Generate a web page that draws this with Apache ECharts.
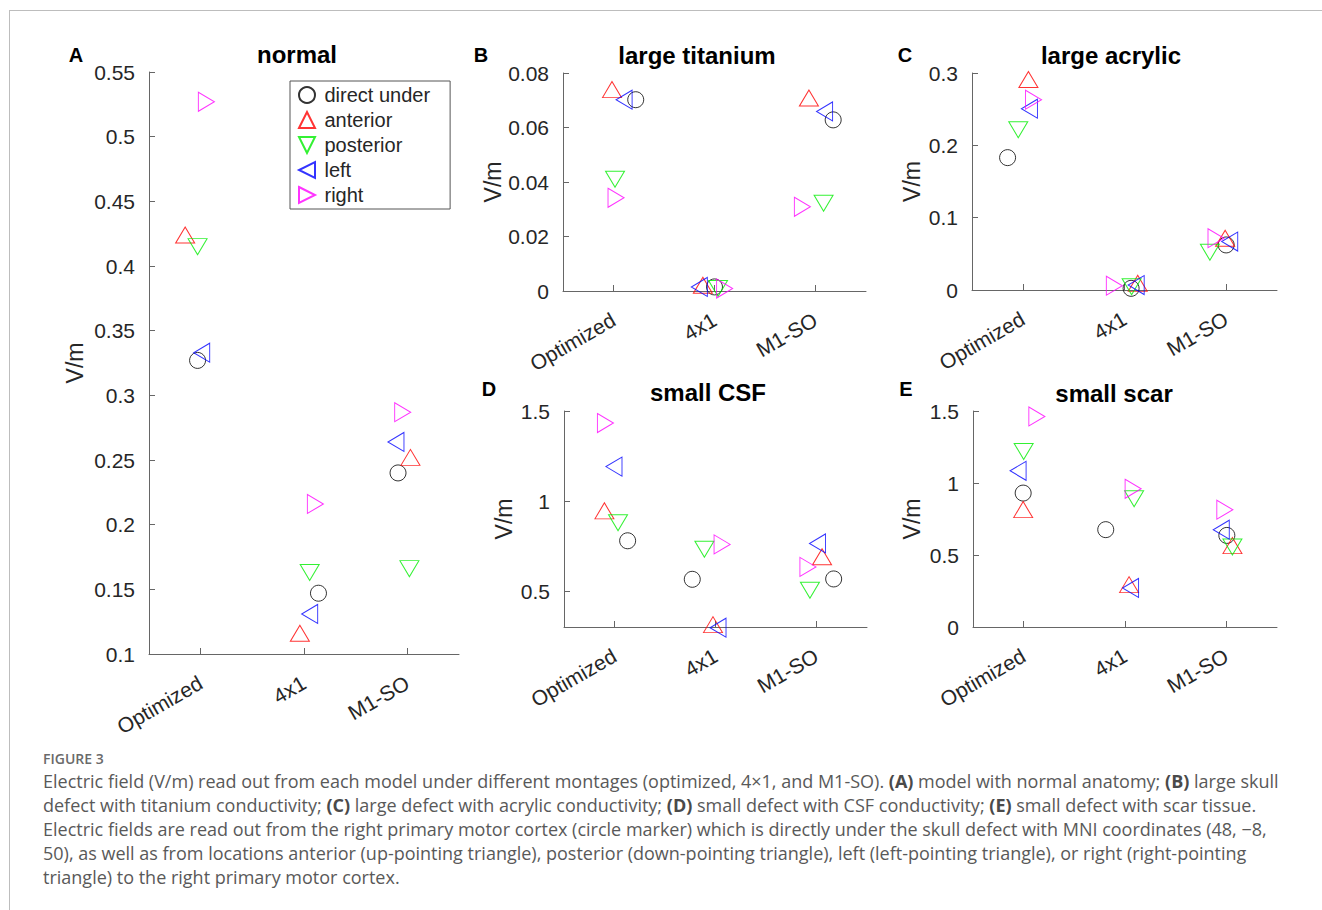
<!DOCTYPE html>
<html>
<head>
<meta charset="utf-8">
<script src="https://cdn.jsdelivr.net/npm/echarts@6/dist/echarts.min.js"></script>
<style>
  html, body { margin: 0; padding: 0; background: #fff; }
  #frame { position: absolute; left: 9px; top: 10px; width: 1313px; height: 900px;
           border-top: 1px solid #bdbdbd; border-left: 1px solid #bdbdbd; }
  #chart { position: absolute; left: 0; top: 0; width: 1322px; height: 740px; }
  #caption { position: absolute; left: 43px; top: 749px; white-space: nowrap;
             font-family: 'Open Sans', 'Noto Sans', sans-serif; color: #595959; }
  #caption .fig { font-size: 14px; line-height: 20px; font-weight: 600; color: #6a6a6a; }
  #caption .txt { font-size: 18px; line-height: 24px; }
  #caption b { font-weight: 700; color: #4a4a4a; }
</style>
</head>
<body>
<div id="frame"></div>
<div id="chart"></div>
<div id="caption">
  <div class="fig">FIGURE 3</div>
  <div class="txt">
    Electric field (V/m) read out from each model under different montages (optimized, 4×1, and M1-SO). <b>(A)</b> model with normal anatomy; <b>(B)</b> large skull<br>
    defect with titanium conductivity; <b>(C)</b> large defect with acrylic conductivity; <b>(D)</b> small defect with CSF conductivity; <b>(E)</b> small defect with scar tissue.<br>
    Electric fields are read out from the right primary motor cortex (circle marker) which is directly under the skull defect with MNI coordinates (48, −8,<br>
    50), as well as from locations anterior (up-pointing triangle), posterior (down-pointing triangle), left (left-pointing triangle), or right (right-pointing<br>
    triangle) to the right primary motor cortex.
  </div>
</div>
<script>
// montages on the x axis, measurement locations as series
const montages = ['Optimized', '4x1', 'M1-SO'];
const locations = ['direct under', 'anterior', 'posterior', 'left', 'right'];

// rows: direct under, anterior, posterior, left, right; columns: Optimized, 4x1, M1-SO
const normalValues = [
  [0.327, 0.147, 0.240],
  [0.424, 0.116, 0.252],
  [0.415, 0.163, 0.166],
  [0.333, 0.131, 0.264],
  [0.527, 0.216, 0.287],
];
// horizontal jitter of each marker around its montage
const normalJitter = [
  [-0.03, 0.14, -0.09],
  [-0.15, -0.04, 0.03],
  [-0.03, 0.055, 0.02],
  [0.01, 0.055, -0.11],
  [0.055, 0.11, -0.045],
];

const titaniumValues = [
  [0.0702, 0.0015, 0.0628],
  [0.0739, 0.0021, 0.0708],
  [0.0410, 0.0009, 0.0322],
  [0.0702, 0.0015, 0.0659],
  [0.0342, 0.0009, 0.0309],
];
const titaniumJitter = [
  [0.22, 0, 0.175],
  [-0.015, -0.115, -0.065],
  [0.015, 0.035, 0.08],
  [0.105, -0.15, 0.09],
  [0.025, 0.1, -0.13],
];

const acrylicValues = [
  [0.183, 0.0023, 0.0623],
  [0.291, 0.0092, 0.0716],
  [0.2215, 0.0046, 0.0522],
  [0.2506, 0.0069, 0.0669],
  [0.2631, 0.0060, 0.0716],
];
const acrylicJitter = [
  [-0.15, 0.065, 0],
  [0.055, 0.13, -0.01],
  [-0.045, 0.07, -0.16],
  [0.065, 0.115, 0.035],
  [0.105, -0.1, -0.1],
];

const csfValues = [
  [0.779, 0.565, 0.567],
  [0.945, 0.313, 0.690],
  [0.879, 0.732, 0.504],
  [1.191, 0.296, 0.764],
  [1.433, 0.759, 0.634],
];
const csfJitter = [
  [0.13, -0.23, 0.17],
  [-0.1, -0.025, 0.055],
  [0.035, -0.11, -0.065],
  [-0.005, 0.025, 0.01],
  [-0.09, 0.065, -0.085],
];

const scarValues = [
  [0.930, 0.676, 0.636],
  [0.815, 0.294, 0.565],
  [1.219, 0.891, 0.556],
  [1.085, 0.271, 0.676],
  [1.4625, 0.960, 0.815],
];
const scarJitter = [
  [-0.005, -0.19, 0.005],
  [-0.005, 0.04, 0.06],
  [0, 0.09, 0.06],
  [-0.055, 0.055, -0.05],
  [0.13, 0.08, -0.015],
];

// y tick labels per panel
const ticksA = [0.1, 0.15, 0.2, 0.25, 0.3, 0.35, 0.4, 0.45, 0.5, 0.55];
const ticksB = [0, 0.02, 0.04, 0.06, 0.08];
const ticksC = [0, 0.1, 0.2, 0.3];
const ticksD = [0.5, 1, 1.5];
const ticksE = [0, 0.5, 1, 1.5];

const markerColors = ['#000000', '#ff0000', '#00ee00', '#0000ff', '#ff00ff'];
const markerSymbols = [
  'circle',
  'path://M0,1L0.5,0L1,1Z',
  'path://M0,0L1,0L0.5,1Z',
  'path://M1,0L1,1L0,0.5Z',
  'path://M0,0L1,0.5L0,1Z',
];
const markerSizes = [16, [19, 16], [19, 16], [16, 19], [16, 19]];

const panels = [
  { grid: { left: 149, top: 72, width: 310, height: 582 }, min: 0.1, max: 0.55, ticks: ticksA,
    gap: 63, values: normalValues, jitter: normalJitter,
    title: 'normal', tx: 297, ty: 54, letter: 'A', lx: 76, ly: 55 },
  { grid: { left: 563, top: 73, width: 303, height: 218 }, min: 0, max: 0.08, ticks: ticksB,
    gap: 55, values: titaniumValues, jitter: titaniumJitter,
    title: 'large titanium', tx: 697, ty: 55, letter: 'B', lx: 481, ly: 55 },
  { grid: { left: 972, top: 73, width: 305, height: 217 }, min: 0, max: 0.3, ticks: ticksC,
    gap: 49, values: acrylicValues, jitter: acrylicJitter,
    title: 'large acrylic', tx: 1111, ty: 55, letter: 'C', lx: 905, ly: 55 },
  { grid: { left: 564, top: 411, width: 303, height: 216 }, min: 0.3, max: 1.5, ticks: ticksD,
    gap: 49, values: csfValues, jitter: csfJitter,
    title: 'small CSF', tx: 708, ty: 392, letter: 'D', lx: 489, ly: 389 },
  { grid: { left: 973, top: 411, width: 304, height: 216 }, min: 0, max: 1.5, ticks: ticksE,
    gap: 50, values: scarValues, jitter: scarJitter,
    title: 'small scar', tx: 1114, ty: 393, letter: 'E', lx: 906, ly: 389 },
];

const FONT = "'Liberation Sans', Arial, Helvetica, sans-serif";
const axisColor = '#666666';
const textColor = '#262626';

const grids = [], xAxes = [], yAxes = [], series = [], graphics = [];

panels.forEach((p, g) => {
  grids.push(Object.assign({ containLabel: false }, p.grid));

  xAxes.push({
    type: 'value', gridIndex: g, min: 0.5, max: 3.5,
    splitLine: { show: false },
    axisLine: { show: true, onZero: false, lineStyle: { color: axisColor, width: 1 } },
    axisTick: { show: true, inside: true, length: 6, customValues: [1, 2, 3],
                lineStyle: { color: axisColor } },
    axisLabel: { customValues: [1, 2, 3], rotate: 30, margin: 27,
                 fontFamily: FONT, fontSize: 21, color: textColor,
                 formatter: (v) => montages[Math.round(v) - 1] },
  });

  yAxes.push({
    type: 'value', gridIndex: g, min: p.min, max: p.max,
    name: 'V/m', nameLocation: 'middle', nameGap: p.gap,
    nameTextStyle: { fontFamily: FONT, fontSize: 23, color: textColor },
    splitLine: { show: false },
    axisLine: { show: true, lineStyle: { color: axisColor, width: 1 } },
    axisTick: { show: true, inside: true, length: 6, customValues: p.ticks,
                lineStyle: { color: axisColor } },
    axisLabel: { customValues: p.ticks, margin: 14, fontFamily: FONT, fontSize: 21,
                 color: textColor, formatter: (v) => String(+(+v).toFixed(3)) },
  });

  locations.forEach((loc, k) => {
    series.push({
      name: loc, type: 'scatter', xAxisIndex: g, yAxisIndex: g,
      symbol: markerSymbols[k], symbolSize: markerSizes[k], symbolKeepAspect: false,
      itemStyle: { color: 'rgba(0,0,0,0)', borderColor: markerColors[k], borderWidth: 1 },
      data: p.values[k].map((v, i) => [i + 1 + p.jitter[k][i], v]),
      clip: false, silent: true, emphasis: { disabled: true },
    });
  });

  graphics.push({
    type: 'text', x: p.tx, y: p.ty, silent: true,
    style: { text: p.title, fill: '#000', align: 'center', verticalAlign: 'middle',
             font: 'bold 24px ' + FONT },
  });
  graphics.push({
    type: 'text', x: p.lx, y: p.ly, silent: true,
    style: { text: p.letter, fill: '#000', align: 'center', verticalAlign: 'middle',
             font: 'bold 20px ' + FONT },
  });
});

const chart = echarts.init(document.getElementById('chart'), null, { renderer: 'svg' });
chart.setOption({
  animation: false,
  backgroundColor: 'transparent',
  grid: grids,
  xAxis: xAxes,
  yAxis: yAxes,
  legend: {
    data: locations, orient: 'vertical', left: 290, top: 81,
    itemWidth: 19, itemHeight: 16, itemGap: 5,
    padding: [4, 20, 4, 8],
    backgroundColor: '#fff', borderColor: '#555', borderWidth: 1,
    selectedMode: false,
    textStyle: { fontFamily: FONT, fontSize: 20, color: textColor, padding: [0, 0, 0, 3] },
  },
  graphic: graphics,
  series: series,
});
</script>
</body>
</html>
